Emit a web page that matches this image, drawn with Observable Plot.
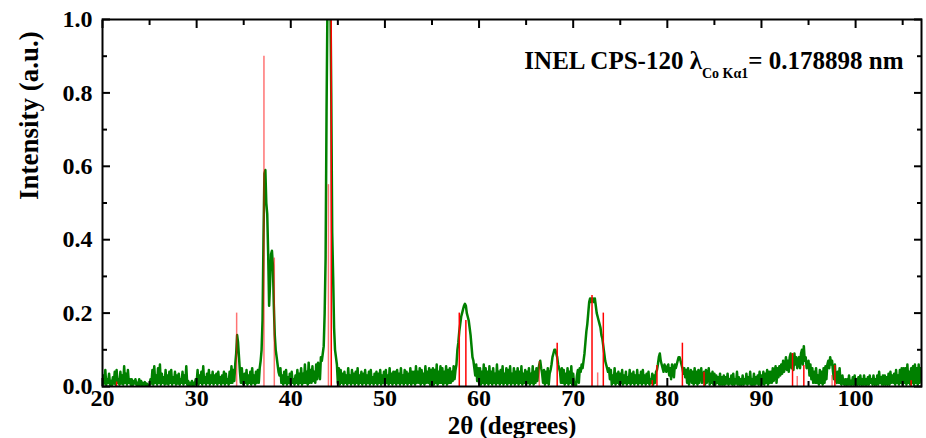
<!DOCTYPE html>
<html><head><meta charset="utf-8">
<script src="https://cdn.jsdelivr.net/npm/d3@7"></script>
<script src="https://cdn.jsdelivr.net/npm/@observablehq/plot@0.6"></script>
<style>html,body{margin:0;padding:0;background:#fff}svg{display:block}</style>
</head><body><div id="chart"></div>
<script>
// Diffraction pattern, sampled from 20° in steps of 0.1° (2θ)
const twoThetaStart = 20;
const twoThetaStep = 0.1;
const intensity = [
.005,.03,.008,.045,.005,.02,.01,.035,.005,.015,
.003,.025,.008,.04,.005,.045,.01,.02,.005,.04,
.008,.03,.005,.055,.01,.035,.005,.045,.01,.02,
.005,.02,.003,.015,.008,.02,.005,.01,.003,.02,
.005,.015,.003,.01,.005,.012,.003,.008,.003,.005,
.005,.02,.008,.045,.005,.055,.01,.03,.005,.05,
.01,.06,.005,.035,.01,.025,.005,.045,.008,.03,
.005,.04,.01,.045,.005,.025,.01,.04,.005,.03,
.008,.035,.005,.02,.01,.04,.005,.03,.01,.055,
.005,.015,.003,.01,.005,.015,.003,.01,.005,.02,
.01,.045,.005,.03,.01,.04,.005,.055,.01,.025,
.005,.035,.01,.045,.005,.03,.01,.04,.005,.03,
.01,.035,.005,.04,.01,.025,.005,.03,.01,.04,
.005,.035,.01,.02,.005,.04,.01,.055,.01,.045,
.015,.06,.09,.14,.12,.08,.04,.01,.05,.01,
.005,.035,.01,.045,.005,.03,.01,.04,.005,.05,
.01,.03,.005,.04,.01,.045,.01,.05,.07,.10,
.18,.40,.58,.59,.50,.47,.36,.22,.28,.36,
.37,.33,.22,.14,.10,.08,.06,.04,.03,.05,
.01,.03,.005,.04,.01,.045,.005,.025,.01,.035,
.005,.04,.01,.02,.005,.03,.01,.045,.005,.035,
.01,.05,.005,.035,.01,.06,.01,.04,.005,.065,
.01,.045,.01,.055,.015,.04,.01,.06,.02,.065,
.05,.02,.08,.07,.09,.11,.20,.35,.75,1.05,
1.15,1.2,1.1,.8,.42,.30,.16,.10,.08,.06,
.01,.05,.005,.045,.01,.035,.005,.04,.01,.03,
.005,.05,.01,.03,.005,.045,.01,.035,.005,.04,
.01,.05,.005,.03,.01,.04,.005,.035,.01,.045,
.005,.03,.01,.04,.005,.045,.01,.025,.005,.035,
.01,.04,.005,.035,.01,.045,.005,.03,.01,.04,
.005,.045,.01,.03,.005,.05,.01,.035,.005,.04,
.01,.04,.005,.045,.01,.035,.005,.05,.01,.03,
.005,.045,.01,.04,.005,.035,.01,.05,.005,.04,
.01,.04,.005,.055,.01,.04,.01,.05,.005,.045,
.01,.035,.005,.055,.01,.04,.01,.05,.005,.045,
.01,.05,.005,.045,.01,.06,.005,.04,.01,.055,
.01,.05,.005,.04,.01,.055,.005,.045,.01,.05,
.01,.04,.015,.055,.02,.045,.06,.10,.12,.15,
.17,.19,.20,.21,.22,.225,.22,.20,.19,.18,
.16,.14,.11,.08,.07,.05,.03,.06,.015,.05,
.01,.05,.005,.04,.01,.06,.005,.05,.01,.04,
.005,.055,.01,.04,.005,.05,.01,.035,.005,.06,
.01,.04,.005,.045,.01,.055,.005,.035,.01,.05,
.005,.045,.01,.055,.005,.035,.01,.05,.005,.04,
.01,.05,.005,.04,.01,.055,.005,.035,.01,.045,
.005,.04,.01,.05,.005,.035,.01,.055,.005,.04,
.01,.05,.015,.045,.06,.07,.05,.035,.01,.045,
.005,.04,.01,.05,.005,.035,.045,.06,.08,.09,
.10,.10,.09,.08,.06,.05,.04,.01,.05,.01,
.045,.005,.035,.01,.05,.005,.04,.01,.055,.005,
.035,.005,.01,.003,.03,.045,.01,.05,.04,.06,
.05,.07,.09,.12,.15,.17,.20,.23,.24,.23,
.24,.24,.23,.24,.22,.20,.19,.18,.17,.16,
.14,.13,.11,.09,.07,.06,.05,.04,.05,.02,
.045,.005,.03,.01,.05,.005,.035,.01,.04,.005,
.035,.01,.045,.005,.03,.01,.04,.005,.025,.01,
.045,.005,.035,.01,.04,.005,.03,.01,.045,.005,
.03,.01,.04,.005,.045,.01,.03,.005,.035,.01,
.04,.005,.02,.01,.035,.005,.03,.01,.04,.045,
.06,.08,.09,.07,.06,.05,.04,.06,.05,.04,
.055,.06,.03,.05,.02,.06,.045,.025,.06,.05,
.06,.07,.08,.08,.07,.06,.05,.035,.05,.025,
.045,.01,.05,.005,.035,.045,.01,.04,.005,.05,
.01,.04,.005,.045,.01,.035,.05,.01,.03,.04,
.005,.045,.01,.03,.05,.005,.035,.01,.04,.005,
.035,.005,.03,.01,.025,.005,.035,.005,.025,.005,
.03,.005,.025,.008,.035,.005,.02,.008,.03,.005,
.035,.005,.02,.008,.04,.005,.025,.005,.02,.005,
.03,.005,.02,.008,.035,.005,.025,.008,.04,.005,
.02,.005,.035,.005,.025,.008,.03,.005,.04,.005,
.03,.008,.04,.005,.035,.01,.045,.005,.04,.01,
.04,.01,.05,.015,.04,.055,.01,.05,.025,.055,
.03,.06,.035,.07,.04,.055,.08,.045,.07,.04,
.08,.09,.05,.08,.045,.09,.06,.08,.05,.07,
.08,.05,.09,.10,.06,.11,.07,.08,.05,.06,
.07,.03,.06,.02,.05,.01,.04,.01,.05,.01,
.03,.005,.045,.01,.04,.005,.05,.01,.055,.02,
.06,.07,.05,.08,.06,.07,.04,.02,.06,.015,
.01,.04,.01,.05,.01,.005,.03,.01,.005,.02,
.005,.02,.005,.03,.005,.015,.005,.025,.005,.03,
.005,.02,.005,.025,.005,.03,.005,.02,.005,.03,
.005,.02,.005,.025,.005,.03,.01,.02,.005,.03,
.005,.02,.005,.03,.005,.04,.01,.025,.005,.03,
.005,.03,.005,.025,.005,.035,.005,.04,.01,.03,
.01,.035,.005,.045,.01,.03,.005,.045,.01,.05,
.005,.05,.01,.05,.005,.06,.01,.04,.005,.05,
.01,.055,.005,.06,.01,.05,.005,.06,.01,.05,
.045
];

// Reference stick pattern (solid red)
const refSolidPos = [21.5, 44.3, 57.9, 58.6, 68.3, 72.0, 73.2, 78.4, 78.9, 81.6, 83.9, 93.3, 94.5, 97.8, 105.9];
const refSolidH   = [0.012, 1.0, 0.20, 0.18, 0.118, 0.248, 0.20, 0.016, 0.057, 0.118, 0.039, 0.09, 0.057, 0.057, 0.016];
// Reference stick pattern (pale red)
const refLightPos = [34.25, 37.15, 38.25, 44.0, 66.4, 72.6, 93.8, 97.5];
const refLightH   = [0.20, 0.90, 0.35, 0.55, 0.068, 0.037, 0.027, 0.03];

const xMajorTicks = [20, 30, 40, 50, 60, 70, 80, 90, 100];
const xMinorTicks = [25, 35, 45, 55, 65, 75, 85, 95, 105];
const yMajorTicks = [0, 0.2, 0.4, 0.6, 0.8, 1.0];
const yMinorTicks = [0.1, 0.3, 0.5, 0.7, 0.9];

const xLabel = "2θ (degrees)";
const yLabel = "Intensity (a.u.)";
const noteMain = "INEL CPS-120 λ";
const noteSub = "Co Kα1";
const noteTail = "= 0.178898 nm";

const pattern = intensity.map((v, i) => ({x: +(twoThetaStart + i * twoThetaStep).toFixed(1), y: v}));
const solid = refSolidPos.map((p, i) => ({pos: p, h: refSolidH[i]}));
const light = refLightPos.map((p, i) => ({pos: p, h: refLightH[i]}));

const font = "'Liberation Serif','Times New Roman',Times,serif";

const chart = Plot.plot({
  width: 926,
  height: 438,
  marginLeft: 102,
  marginRight: 5,
  marginTop: 19,
  marginBottom: 52,
  style: {fontFamily: font, fontWeight: "bold", background: "#fff", color: "#000", overflow: "visible"},
  x: {domain: [20, 107]},
  y: {domain: [0, 1]},
  marks: [
    Plot.line(pattern, {x: "x", y: "y", stroke: "#008000", strokeWidth: 2.5, clip: true}),
    Plot.ruleX(light, {x: "pos", y1: 0, y2: "h", stroke: "#ff0000", strokeOpacity: 0.55, strokeWidth: 1.5}),
    Plot.ruleX(solid, {x: "pos", y1: 0, y2: "h", stroke: "#ff0000", strokeWidth: 1.5}),
    Plot.frame({stroke: "#000", strokeWidth: 2}),
    Plot.axisX(xMajorTicks, {anchor: "bottom", tickSize: -8, tickPadding: 10, strokeWidth: 2, fontSize: 24, label: null, tickFormat: d => String(d)}),
    Plot.axisX(xMinorTicks, {anchor: "bottom", tickSize: -5, strokeWidth: 2, fill: "none", label: null}),
    Plot.axisX(xMajorTicks, {anchor: "top", tickSize: -8, strokeWidth: 2, fill: "none", label: null}),
    Plot.axisX(xMinorTicks, {anchor: "top", tickSize: -5, strokeWidth: 2, fill: "none", label: null}),
    Plot.axisY(yMajorTicks, {anchor: "left", tickSize: -8, tickPadding: 18, strokeWidth: 2, fontSize: 24, label: null, tickFormat: d => d.toFixed(1)}),
    Plot.axisY(yMinorTicks, {anchor: "left", tickSize: -5, strokeWidth: 2, fill: "none", label: null}),
    Plot.axisY(yMajorTicks, {anchor: "right", tickSize: -8, strokeWidth: 2, fill: "none", label: null}),
    Plot.axisY(yMinorTicks, {anchor: "right", tickSize: -5, strokeWidth: 2, fill: "none", label: null}),
    Plot.text([xLabel], {frameAnchor: "bottom", dy: 39, fontSize: 25, fontWeight: "bold", lineAnchor: "middle"}),
    Plot.text([yLabel], {frameAnchor: "left", dx: -73, dy: -3, rotate: -90, fontSize: 27, fontWeight: "bold", lineAnchor: "middle"}),
    Plot.text([noteMain], {frameAnchor: "top-right", textAnchor: "end", dx: -18, dy: 41, fontSize: 25, fontWeight: "bold", lineAnchor: "middle"})
  ]
});

// add subscript to the annotation
const note = [...chart.querySelectorAll("text")].find(e => e.textContent === noteMain);
if (note) {
  note.textContent = "";
  const ns = "http://www.w3.org/2000/svg";
  const t1 = document.createElementNS(ns, "tspan"); t1.textContent = noteMain;
  const t2 = document.createElementNS(ns, "tspan"); t2.textContent = noteSub;
  t2.setAttribute("font-size", "14"); t2.setAttribute("dy", "9");
  const t3 = document.createElementNS(ns, "tspan"); t3.textContent = noteTail;
  t3.setAttribute("dy", "-9");
  note.append(t1, t2, t3);
}

document.getElementById("chart").append(chart);
</script>
</body></html>
